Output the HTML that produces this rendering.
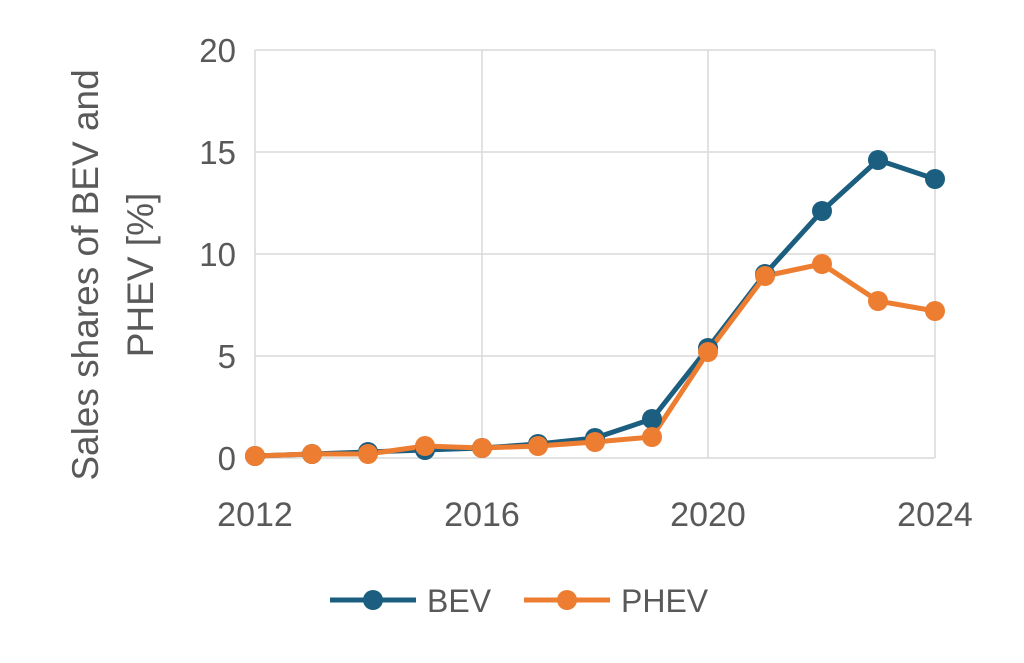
<!DOCTYPE html>
<html><head><meta charset="utf-8"><style>
html,body{margin:0;padding:0;background:#fff;}
svg{display:block;font-family:"Liberation Sans",sans-serif;}
</style></head><body>
<svg width="1024" height="663" viewBox="0 0 1024 663" xmlns="http://www.w3.org/2000/svg">
<g stroke="#d9d9d9" stroke-width="1.5">
<line x1="255" y1="50" x2="935" y2="50"/>
<line x1="255" y1="152" x2="935" y2="152"/>
<line x1="255" y1="254" x2="935" y2="254"/>
<line x1="255" y1="356" x2="935" y2="356"/>
<line x1="255" y1="458" x2="935" y2="458"/>
<line x1="255" y1="50" x2="255" y2="458"/>
<line x1="482" y1="50" x2="482" y2="458"/>
<line x1="708" y1="50" x2="708" y2="458"/>
<line x1="935" y1="50" x2="935" y2="458"/>
</g>
<g fill="#595959" font-size="33" text-anchor="end">
<text x="236" y="62">20</text>
<text x="236" y="164">15</text>
<text x="236" y="266">10</text>
<text x="236" y="368">5</text>
<text x="236" y="470">0</text>
</g>
<g fill="#595959" font-size="34" text-anchor="middle">
<text x="255" y="526">2012</text>
<text x="482" y="526">2016</text>
<text x="708" y="526">2020</text>
<text x="935" y="526">2024</text>
</g>
<text transform="translate(0,275) rotate(-90)" fill="#595959" font-size="37" text-anchor="middle"><tspan x="0" y="98">Sales shares of BEV and</tspan><tspan x="0" y="153">PHEV [%]</tspan></text>
<g fill="none" stroke-width="5" stroke-linejoin="round">
<polyline stroke="#1b5e7f" points="255,456 312,454 368,452 425,450 482,448 538,444 595,438 652,419 708,348 765,274 822,211 878,160 935,179"/>
<polyline stroke="#ed7d31" points="255,456 312,454 368,454 425,446 482,448 538,446 595,442 652,437 708,352 765,276 822,264 878,301 935,311"/>
</g>
<g fill="#1b5e7f">
<circle cx="255" cy="456" r="10"/><circle cx="312" cy="454" r="10"/><circle cx="368" cy="452" r="10"/><circle cx="425" cy="450" r="10"/><circle cx="482" cy="448" r="10"/><circle cx="538" cy="444" r="10"/><circle cx="595" cy="438" r="10"/><circle cx="652" cy="419" r="10"/><circle cx="708" cy="348" r="10"/><circle cx="765" cy="274" r="10"/><circle cx="822" cy="211" r="10"/><circle cx="878" cy="160" r="10"/><circle cx="935" cy="179" r="10"/>
</g>
<g fill="#ed7d31">
<circle cx="255" cy="456" r="10"/><circle cx="312" cy="454" r="10"/><circle cx="368" cy="454" r="10"/><circle cx="425" cy="446" r="10"/><circle cx="482" cy="448" r="10"/><circle cx="538" cy="446" r="10"/><circle cx="595" cy="442" r="10"/><circle cx="652" cy="437" r="10"/><circle cx="708" cy="352" r="10"/><circle cx="765" cy="276" r="10"/><circle cx="822" cy="264" r="10"/><circle cx="878" cy="301" r="10"/><circle cx="935" cy="311" r="10"/>
</g>
<line x1="330" y1="600" x2="416" y2="600" stroke="#1b5e7f" stroke-width="5"/>
<circle cx="373" cy="600" r="10" fill="#1b5e7f"/>
<text x="427" y="612" fill="#595959" font-size="32">BEV</text>
<line x1="524" y1="600" x2="610" y2="600" stroke="#ed7d31" stroke-width="5"/>
<circle cx="567" cy="600" r="10" fill="#ed7d31"/>
<text x="621" y="612" fill="#595959" font-size="32">PHEV</text>
</svg>
</body></html>
